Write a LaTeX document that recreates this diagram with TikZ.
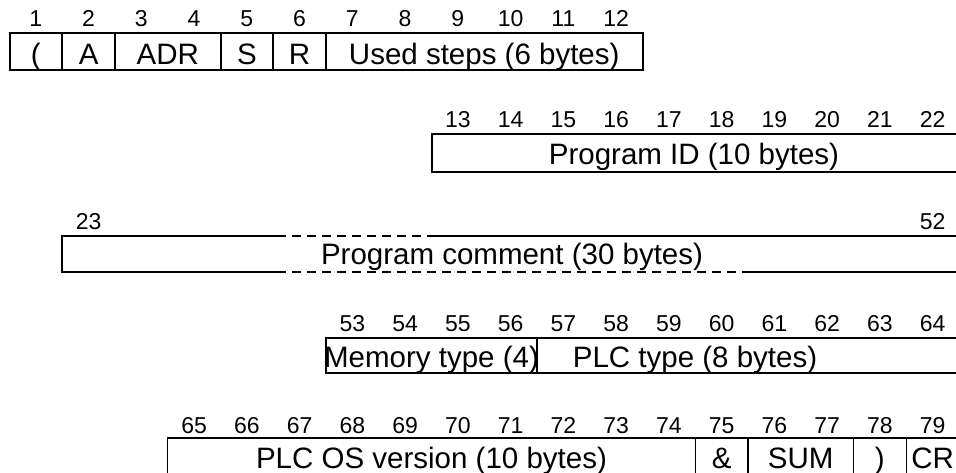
\documentclass[tikz,border=0pt]{standalone}
\usepackage{fontspec}
\setmainfont{Liberation Sans}
\newcommand{\colx}[1]{9.5+52.75*(#1)}
\tikzset{
  frame/.style={line width=2pt, line cap=rect},
  thin/.style={line width=1.4pt},
  dashpart/.style={line width=2pt, dash pattern=on 9pt off 6pt},
  num/.style={anchor=base, inner sep=0pt, font=\fontsize{23}{23}\selectfont},
  lbl/.style={anchor=base, inner sep=0pt, font=\fontsize{29.5}{29.5}\selectfont},
}
\begin{document}
\begin{tikzpicture}[x=1pt, y=-1pt]
\useasboundingbox[fill=white] (0,0) rectangle (956,473);
% ---------- row 1 ----------
\foreach \n [count=\i from 0] in {1,...,12}
  \node[num] (a\n) at ({\colx{\i+0.5}},27) {\n};
\draw[frame] ({\colx{0}},33) rectangle ({\colx{12}},70);
\foreach \c in {1,2,4,5,6}
  \draw[frame] ({\colx{\c}},33) -- ({\colx{\c}},70);
\node[lbl] (paren) at ({\colx{0.5}},65) {(};
\node[lbl] (fa) at ({\colx{1.5}},65) {A};
\node[lbl] (adr) at ({\colx{3}},65) {ADR};
\node[lbl] (fs) at ({\colx{4.5}},65) {S};
\node[lbl] (fr) at ({\colx{5.5}},65) {R};
\node[lbl] (used) at ({\colx{9}},65) {Used steps (6 bytes)};
% ---------- row 2 ----------
\foreach \n [count=\i from 8] in {13,...,22}
  \node[num] (b\n) at ({\colx{\i+0.5}},128) {\n};
\draw[frame] ({\colx{18}},134) -- ({\colx{8}},134) -- ({\colx{8}},172) -- ({\colx{18}},172);
\node[lbl] (pid) at (694,165) {Program ID (10 bytes)};
% ---------- row 3 ----------
\node[num] (c23) at ({\colx{1.5}},230) {23};
\node[num] (c52) at ({\colx{17.5}},230) {52};
\draw[frame] (277,236) -- ({\colx{1}},236) -- ({\colx{1}},272) -- (277,272);
\draw[dashpart] (277,236) -- (430,236);
\draw[frame] (430,236) -- ({\colx{18}},236);
\draw[dashpart] (277,272) -- (748,272);
\draw[frame] (748,272) -- ({\colx{18}},272);
\node[lbl] (pcom) at (512,265) {Program comment (30 bytes)};
% ---------- row 4 ----------
\foreach \n [count=\i from 6] in {53,...,64}
  \node[num] (d\n) at ({\colx{\i+0.5}},331) {\n};
\draw[frame] ({\colx{18}},338) -- ({\colx{6}},338);
\draw[frame] ({\colx{18}},373) -- ({\colx{6}},373);
\draw[thin] ({\colx{6}},338) -- ({\colx{6}},373);
\draw[thin] ({\colx{10}},338) -- ({\colx{10}},373);
\node[lbl] (mem) at ({\colx{8}},367) {Memory type (4)};
\node[lbl] (plct) at (695,367) {PLC type (8 bytes)};
% ---------- row 5 ----------
\foreach \n [count=\i from 3] in {65,...,79}
  \node[num] (e\n) at ({\colx{\i+0.5}},433) {\n};
\draw[frame] ({\colx{18}},438) -- ({\colx{3}},438);
\draw[frame] ({\colx{18}},475) -- ({\colx{3}},475);
\foreach \c in {3,13,14,16,17}
  \draw[thin] ({\colx{\c}},438) -- ({\colx{\c}},475);
\node[lbl] (plcos) at ({\colx{8}},468) {PLC OS version (10 bytes)};
\node[lbl] (amp) at ({\colx{13.5}},468) {\&};
\node[lbl] (sum) at ({\colx{15}},468) {SUM};
\node[lbl] (rp) at ({\colx{16.5}},468) {)};
\node[lbl] (cr) at ({\colx{17.5}},468) {CR};
\end{tikzpicture}
\end{document}
